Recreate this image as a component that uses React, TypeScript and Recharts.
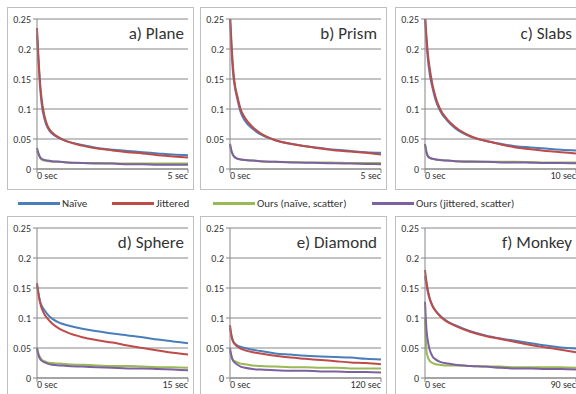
import { CartesianGrid, Line, LineChart, XAxis, YAxis } from "recharts";

// shared sample positions along the time axis (fraction of the run)
const timeFrac = [0, 0.01, 0.02, 0.03, 0.05, 0.07, 0.1, 0.15, 0.2, 0.3, 0.4, 0.5, 0.6, 0.7, 0.8, 0.9, 1];

const panelTitles = ["a) Plane", "b) Prism", "c) Slabs", "d) Sphere", "e) Diamond", "f) Monkey"];
const panelEndLabels = ["5 sec", "5 sec", "10 sec", "15 sec", "120 sec", "90 sec"];
const yTicks = [0, 0.05, 0.1, 0.15, 0.2, 0.25];

const planeNaive = [0.225, 0.178, 0.138, 0.11, 0.083, 0.069, 0.059, 0.051, 0.046, 0.04, 0.035, 0.032, 0.03, 0.028, 0.026, 0.024, 0.023];
const planeJittered = [0.235, 0.185, 0.145, 0.118, 0.088, 0.072, 0.061, 0.052, 0.046, 0.039, 0.034, 0.031, 0.028, 0.026, 0.023, 0.021, 0.019];
const planeOursNaive = [0.03, 0.024, 0.019, 0.016, 0.014, 0.013, 0.012, 0.012, 0.011, 0.01, 0.01, 0.0095, 0.009, 0.009, 0.009, 0.009, 0.009];
const planeOursJittered = [0.035, 0.026, 0.02, 0.017, 0.015, 0.014, 0.013, 0.012, 0.011, 0.01, 0.009, 0.009, 0.008, 0.008, 0.007, 0.007, 0.007];

const prismNaive = [0.25, 0.2, 0.16, 0.14, 0.115, 0.095, 0.08, 0.067, 0.058, 0.048, 0.042, 0.038, 0.035, 0.032, 0.03, 0.028, 0.027];
const prismJittered = [0.26, 0.21, 0.17, 0.145, 0.12, 0.1, 0.085, 0.07, 0.06, 0.048, 0.042, 0.038, 0.034, 0.031, 0.029, 0.027, 0.024];
const prismOursNaive = [0.04, 0.029, 0.023, 0.02, 0.017, 0.016, 0.015, 0.014, 0.013, 0.012, 0.0115, 0.011, 0.011, 0.0105, 0.01, 0.01, 0.01];
const prismOursJittered = [0.042, 0.03, 0.024, 0.02, 0.017, 0.016, 0.015, 0.014, 0.013, 0.012, 0.011, 0.0105, 0.01, 0.0095, 0.009, 0.0085, 0.008];

const slabsNaive = [0.25, 0.21, 0.18, 0.16, 0.135, 0.115, 0.097, 0.08, 0.068, 0.054, 0.047, 0.042, 0.038, 0.036, 0.034, 0.032, 0.031];
const slabsJittered = [0.26, 0.22, 0.19, 0.17, 0.14, 0.12, 0.1, 0.082, 0.07, 0.055, 0.047, 0.041, 0.036, 0.033, 0.03, 0.028, 0.026];
const slabsOursNaive = [0.04, 0.027, 0.021, 0.019, 0.017, 0.016, 0.015, 0.014, 0.013, 0.013, 0.012, 0.012, 0.012, 0.0115, 0.011, 0.011, 0.011];
const slabsOursJittered = [0.042, 0.028, 0.021, 0.019, 0.017, 0.016, 0.015, 0.014, 0.013, 0.012, 0.012, 0.011, 0.011, 0.0105, 0.01, 0.01, 0.0095];

const sphereNaive = [0.155, 0.14, 0.128, 0.121, 0.113, 0.106, 0.099, 0.092, 0.088, 0.082, 0.078, 0.074, 0.071, 0.068, 0.064, 0.061, 0.058];
const sphereJittered = [0.158, 0.14, 0.126, 0.117, 0.106, 0.099, 0.091, 0.082, 0.076, 0.068, 0.063, 0.059, 0.054, 0.05, 0.046, 0.042, 0.039];
const sphereOursNaive = [0.05, 0.04, 0.035, 0.031, 0.028, 0.026, 0.025, 0.024, 0.023, 0.022, 0.021, 0.02, 0.02, 0.019, 0.018, 0.018, 0.017];
const sphereOursJittered = [0.05, 0.038, 0.032, 0.029, 0.026, 0.024, 0.022, 0.021, 0.02, 0.019, 0.018, 0.017, 0.016, 0.016, 0.015, 0.014, 0.013];

const diamondNaive = [0.083, 0.07, 0.062, 0.058, 0.054, 0.052, 0.05, 0.047, 0.045, 0.041, 0.039, 0.037, 0.036, 0.035, 0.034, 0.032, 0.031];
const diamondJittered = [0.088, 0.07, 0.061, 0.057, 0.052, 0.049, 0.046, 0.043, 0.041, 0.037, 0.034, 0.032, 0.03, 0.028, 0.026, 0.025, 0.023];
const diamondOursNaive = [0.045, 0.036, 0.03, 0.028, 0.026, 0.024, 0.023, 0.021, 0.02, 0.019, 0.018, 0.018, 0.017, 0.017, 0.016, 0.016, 0.016];
const diamondOursJittered = [0.05, 0.036, 0.029, 0.026, 0.022, 0.019, 0.017, 0.015, 0.014, 0.013, 0.012, 0.012, 0.011, 0.011, 0.01, 0.01, 0.009];

const monkeyNaive = [0.17, 0.155, 0.142, 0.132, 0.12, 0.112, 0.104, 0.094, 0.088, 0.078, 0.071, 0.066, 0.062, 0.058, 0.054, 0.051, 0.049];
const monkeyJittered = [0.18, 0.16, 0.145, 0.134, 0.12, 0.112, 0.103, 0.093, 0.087, 0.077, 0.07, 0.065, 0.06, 0.055, 0.051, 0.047, 0.043];
const monkeyOursNaive = [0.1, 0.045, 0.034, 0.029, 0.025, 0.023, 0.022, 0.021, 0.021, 0.02, 0.019, 0.019, 0.018, 0.018, 0.018, 0.018, 0.017];
const monkeyOursJittered = [0.127, 0.08, 0.06, 0.048, 0.036, 0.031, 0.027, 0.024, 0.022, 0.02, 0.019, 0.017, 0.016, 0.016, 0.015, 0.015, 0.014];

const seriesNames = ["Naïve", "Jittered", "Ours (naïve, scatter)", "Ours (jittered, scatter)"];
const seriesColors = ["#4a7ebb", "#be4b48", "#98b954", "#7d60a0"];

const panels = [
  [planeNaive, planeJittered, planeOursNaive, planeOursJittered],
  [prismNaive, prismJittered, prismOursNaive, prismOursJittered],
  [slabsNaive, slabsJittered, slabsOursNaive, slabsOursJittered],
  [sphereNaive, sphereJittered, sphereOursNaive, sphereOursJittered],
  [diamondNaive, diamondJittered, diamondOursNaive, diamondOursJittered],
  [monkeyNaive, monkeyJittered, monkeyOursNaive, monkeyOursJittered],
];

const FONT = "Carlito, Lato, 'Open Sans', sans-serif";
const panelLefts = [7, 200, 395];
const panelTops = [7, 216];
const legendLefts = [18, 112, 213, 372];

function TimeTick(props: any) {
  const { x, y, payload, endLabel } = props;
  const first = payload.value === 0;
  return (
    <text
      x={x}
      y={y - 3}
      dy="0.71em"
      textAnchor={first ? "start" : "end"}
      fontSize={10}
      fontFamily={FONT}
      fill="#333"
    >
      {first ? "0 sec" : endLabel}
    </text>
  );
}

function Panel({ idx }: { idx: number }) {
  const series = panels[idx];
  const rows = timeFrac.map((t, i) => ({
    t,
    s0: series[0][i],
    s1: series[1][i],
    s2: series[2][i],
    s3: series[3][i],
  }));
  const left = panelLefts[idx % 3];
  const top = panelTops[Math.floor(idx / 3)];

  return (
    <div
      style={{
        position: "absolute",
        left,
        top,
        width: 185,
        height: 181,
        border: "1px solid #bfbfbf",
        background: "#fff",
      }}
    >
      <LineChart width={185} height={181} data={rows} margin={{ top: 11, right: 5, left: 0, bottom: 0 }}>
        <CartesianGrid vertical={false} stroke="#868686" />
        <XAxis
          dataKey="t"
          type="number"
          domain={[0, 1]}
          ticks={[0, 1]}
          height={20}
          stroke="#868686"
          tickSize={4}
          tick={<TimeTick endLabel={panelEndLabels[idx]} />}
        />
        <YAxis
          domain={[0, 0.25]}
          ticks={yTicks}
          allowDataOverflow
          width={29}
          stroke="#868686"
          tickSize={4}
          tick={{ fontSize: 10, fill: "#333", fontFamily: FONT }}
          tickFormatter={(v: number) => String(v)}
        />
        {[0, 1, 2, 3].map((k) => (
          <Line
            key={k}
            dataKey={`s${k}`}
            type="monotone"
            stroke={seriesColors[k]}
            strokeWidth={2}
            dot={false}
            isAnimationActive={false}
          />
        ))}
      </LineChart>
      <div
        style={{
          position: "absolute",
          right: 9,
          top: 16,
          fontFamily: FONT,
          fontSize: 17,
          fontWeight: 400,
          lineHeight: "20px",
          color: "#333",
        }}
      >
        {panelTitles[idx]}
      </div>
    </div>
  );
}

export default function App() {
  return (
    <div
      style={{
        position: "absolute",
        left: 0,
        top: 0,
        width: 576,
        height: 394,
        overflow: "hidden",
        background: "#fff",
      }}
    >
      {panelTitles.map((_, i) => (
        <Panel key={i} idx={i} />
      ))}
      {seriesNames.map((name, k) => (
        <div
          key={name}
          style={{
            position: "absolute",
            left: legendLefts[k],
            top: 196,
            display: "flex",
            alignItems: "center",
            height: 14,
            fontFamily: FONT,
            fontSize: 11,
            color: "#333",
            whiteSpace: "nowrap",
          }}
        >
          <span style={{ display: "inline-block", width: 42, height: 3, background: seriesColors[k], marginRight: 2 }} />
          {name}
        </div>
      ))}
    </div>
  );
}
